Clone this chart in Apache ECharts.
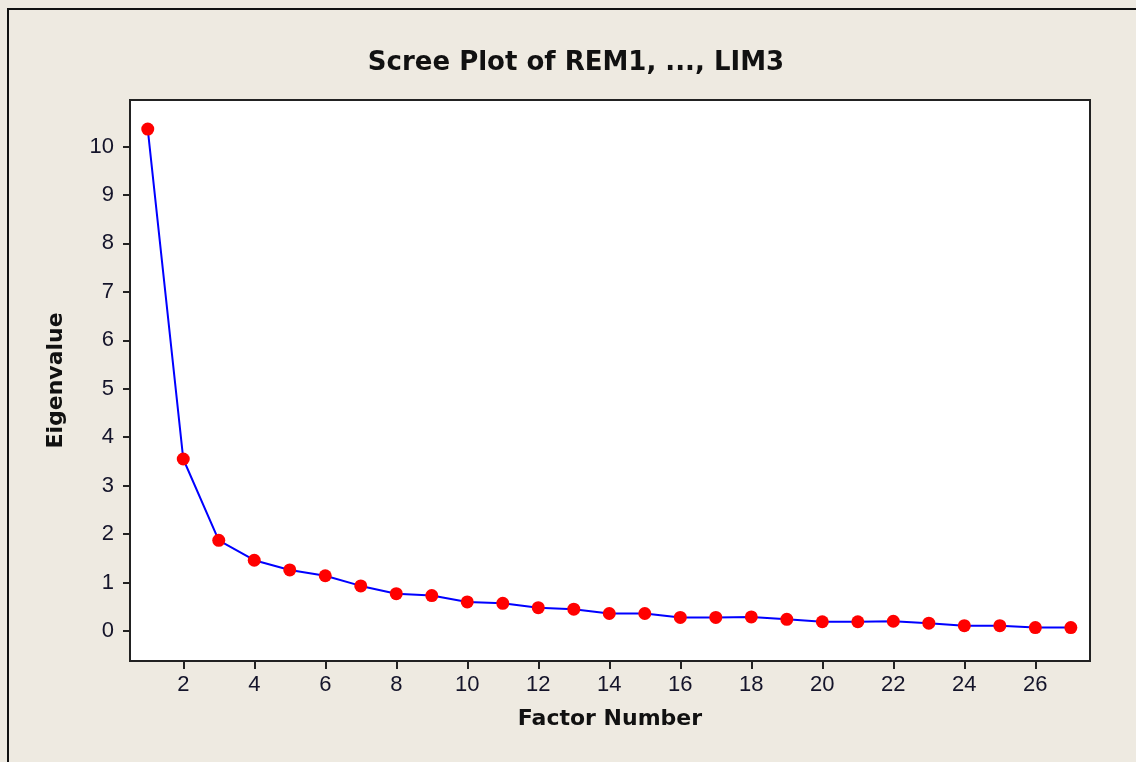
<!DOCTYPE html>
<html>
<head>
<meta charset="utf-8">
<script src="https://cdn.jsdelivr.net/npm/echarts@6/dist/echarts.min.js"></script>
<style>
html,body{margin:0;padding:0;background:#eeeae1;}
#chart{width:1136px;height:762px;}
</style>
</head>
<body>
<div id="chart"></div>
<script>
var factorNumbers = [1,2,3,4,5,6,7,8,9,10,11,12,13,14,15,16,17,18,19,20,21,22,23,24,25,26,27];
var eigenvalues = [10.36,3.55,1.87,1.46,1.26,1.14,0.93,0.77,0.73,0.60,0.57,0.48,0.45,0.36,0.36,0.28,0.28,0.29,0.24,0.19,0.19,0.20,0.16,0.11,0.11,0.07,0.07];
var xTicks = [2,4,6,8,10,12,14,16,18,20,22,24,26];
var yTicks = [0,1,2,3,4,5,6,7,8,9,10];

var chart = echarts.init(document.getElementById('chart'));
var boldFont = '"DejaVu Sans", sans-serif';
var tickFont = '"Liberation Sans", Arial, sans-serif';
chart.setOption({
  backgroundColor: '#eeeae1',
  animation: false,
  title: {
    text: 'Scree Plot of REM1, ..., LIM3',
    left: 571, top: 45, textAlign: 'center',
    textStyle: {fontFamily: boldFont, fontWeight: 'bold', fontSize: 26, color: '#111'}
  },
  graphic: [
    {type: 'rect', shape: {x: 8, y: 9, width: 1200, height: 800}, style: {fill: 'none', stroke: '#111', lineWidth: 2}, z: 100}
  ],
  grid: {left: 130, top: 100, right: 46, bottom: 101, show: true, backgroundColor: '#ffffff', borderColor: '#222', borderWidth: 2},
  xAxis: {
    type: 'value', min: 0.5, max: 27.54,
    name: 'Factor Number', nameLocation: 'middle', nameGap: 47,
    nameTextStyle: {fontFamily: boldFont, fontWeight: 'bold', fontSize: 22, color: '#111'},
    axisLine: {show: true, onZero: false, lineStyle: {color: '#222', width: 2}},
    axisTick: {show: true, length: 8, customValues: xTicks, lineStyle: {color: '#222', width: 2}},
    axisLabel: {customValues: xTicks, fontFamily: tickFont, fontSize: 22, color: '#14142a', margin: 13},
    splitLine: {show: false}
  },
  yAxis: {
    type: 'value', min: -0.62, max: 10.96,
    name: 'Eigenvalue', nameLocation: 'middle', nameGap: 63, nameRotate: 90,
    nameTextStyle: {fontFamily: boldFont, fontWeight: 'bold', fontSize: 22, color: '#111'},
    axisLine: {show: true, onZero: false, lineStyle: {color: '#222', width: 2}},
    axisTick: {show: true, length: 7, customValues: yTicks, lineStyle: {color: '#222', width: 2}},
    axisLabel: {customValues: yTicks, fontFamily: tickFont, fontSize: 22, color: '#14142a', margin: 16},
    splitLine: {show: false}
  },
  series: [{
    type: 'line',
    data: factorNumbers.map(function(f, i){ return [f, eigenvalues[i]]; }),
    symbol: 'circle', symbolSize: 13,
    itemStyle: {color: '#ff0000'},
    lineStyle: {color: '#0000ff', width: 2},
    z: 5
  }]
});
</script>
</body>
</html>
